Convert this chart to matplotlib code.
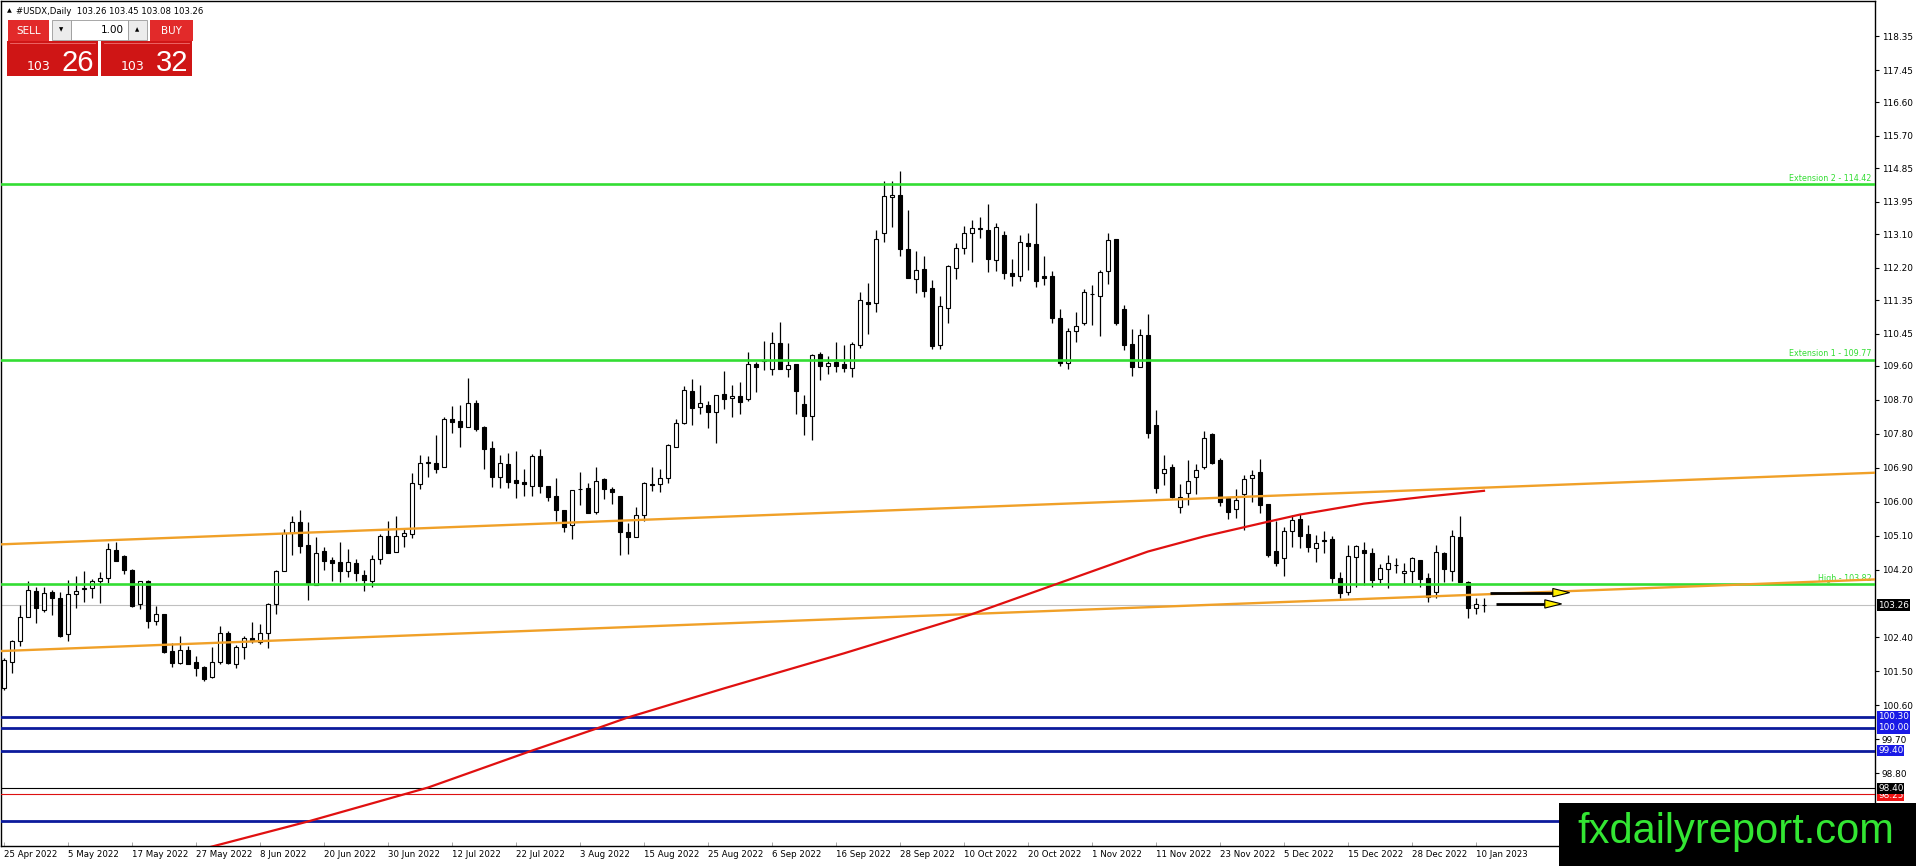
import matplotlib
matplotlib.use('Agg')
import matplotlib.pyplot as plt
from matplotlib.patches import Rectangle, Polygon

symbol = '#USDX,Daily'

# daily candles, 25 Apr 2022 .. 11 Jan 2023
opens = [101.05, 101.74, 102.30, 102.93, 103.64, 103.14, 103.60, 103.44, 102.48, 103.54,
         103.68, 103.70, 103.89, 103.97, 104.71, 104.56, 104.19, 103.28, 103.90, 102.85,
         103.02, 102.03, 101.73, 102.08, 101.74, 101.62, 101.34, 101.74, 102.51, 101.71,
         102.14, 102.38, 102.29, 102.51, 103.28, 104.17, 105.18, 105.45, 104.85, 103.79,
         104.69, 104.45, 104.39, 104.17, 104.37, 104.07, 103.91, 104.47, 105.09, 104.68,
         105.10, 105.14, 106.46, 107.03, 107.04, 106.93, 108.19, 108.14, 107.99, 108.61,
         107.98, 107.42, 106.66, 107.00, 106.58, 106.52, 106.43, 107.20, 106.42, 106.15,
         105.78, 105.37, 106.33, 106.36, 105.74, 106.60, 106.35, 106.15, 105.19, 105.07,
         105.65, 106.47, 106.46, 106.62, 107.46, 108.08, 108.94, 108.50, 108.57, 108.39,
         108.87, 108.74, 108.81, 108.72, 109.65, 109.72, 109.51, 110.20, 109.51, 109.65,
         108.58, 108.28, 109.93, 109.59, 109.70, 109.65, 109.56, 110.17, 111.31, 111.26,
         113.14, 114.07, 114.13, 112.69, 111.92, 112.17, 111.66, 110.17, 111.15, 112.21,
         112.74, 113.12, 113.24, 113.22, 112.41, 113.07, 112.06, 111.99, 112.85, 112.83,
         111.99, 111.99, 110.86, 109.67, 110.54, 110.75, 111.51, 111.46, 112.13, 112.97,
         111.11, 110.18, 109.58, 110.42, 108.03, 106.75, 106.93, 105.85, 106.24, 106.65,
         106.93, 107.80, 107.11, 106.09, 105.82, 106.20, 106.62, 106.78, 105.94, 104.69,
         104.50, 105.23, 105.53, 105.14, 104.76, 104.97, 105.00, 103.97, 103.60, 104.53,
         104.72, 104.63, 103.94, 104.21, 104.33, 104.10, 104.16, 104.45, 103.97, 103.61,
         104.63, 104.17, 105.07, 103.88, 103.17, 103.26]
highs = [101.85, 102.33, 103.26, 103.91, 103.73, 103.73, 103.66, 103.60, 103.92, 104.03,
         104.16, 103.95, 104.14, 104.91, 104.94, 104.60, 104.21, 103.91, 103.92, 103.23,
         103.03, 102.26, 102.45, 102.17, 101.91, 101.65, 102.14, 102.71, 102.58, 102.19,
         102.45, 102.80, 102.75, 103.32, 104.19, 105.27, 105.63, 105.78, 105.45, 105.06,
         104.79, 104.54, 104.92, 104.74, 104.47, 104.19, 104.59, 105.14, 105.50, 105.63,
         105.27, 106.75, 107.24, 107.21, 107.77, 108.26, 108.54, 108.57, 109.27, 108.70,
         108.00, 107.61, 107.23, 107.28, 107.34, 106.87, 107.26, 107.40, 106.43, 106.64,
         105.79, 106.32, 106.78, 106.51, 106.91, 106.62, 106.38, 106.16, 105.44, 105.85,
         106.52, 106.91, 106.86, 107.53, 108.19, 109.07, 109.25, 109.10, 108.67, 108.84,
         109.48, 109.10, 109.18, 109.98, 109.70, 110.26, 110.51, 110.76, 110.20, 109.66,
         108.83, 109.93, 109.96, 109.86, 110.23, 110.16, 110.24, 111.55, 111.79, 113.20,
         114.50, 114.50, 114.77, 113.75, 112.65, 112.51, 111.88, 111.45, 112.29, 112.85,
         113.31, 113.47, 113.56, 113.89, 113.38, 113.19, 112.43, 113.07, 113.12, 113.91,
         112.52, 112.12, 111.11, 110.60, 111.02, 111.64, 111.76, 112.14, 113.13, 112.98,
         111.23, 110.57, 110.57, 110.98, 108.43, 107.24, 107.01, 106.46, 107.12, 107.00,
         107.88, 107.81, 107.17, 106.10, 106.34, 106.71, 106.84, 107.13, 105.95, 105.50,
         105.34, 105.65, 105.67, 105.38, 105.12, 105.22, 105.09, 104.13, 104.85, 104.85,
         104.94, 104.76, 104.35, 104.59, 104.50, 104.37, 104.54, 104.46, 104.10, 104.85,
         104.68, 105.25, 105.62, 103.89, 103.46, 103.45]
lows = [101.02, 101.46, 102.17, 102.93, 102.79, 103.08, 102.99, 102.40, 102.31, 103.17,
        103.35, 103.45, 103.32, 103.85, 104.43, 104.08, 103.20, 103.16, 102.64, 102.73,
        101.99, 101.62, 101.71, 101.69, 101.38, 101.25, 101.33, 101.70, 101.70, 101.60,
        101.82, 102.26, 102.24, 102.11, 103.01, 104.16, 104.59, 104.63, 103.39, 103.78,
        104.19, 103.91, 103.86, 104.01, 103.91, 103.64, 103.73, 104.34, 104.63, 104.66,
        104.79, 105.03, 106.33, 106.66, 106.77, 106.92, 107.81, 107.44, 107.98, 107.88,
        106.86, 106.38, 106.36, 106.36, 106.09, 106.16, 106.16, 106.22, 106.03, 105.50,
        105.21, 105.01, 105.91, 105.69, 105.67, 106.06, 105.93, 104.59, 104.61, 105.06,
        105.50, 106.29, 106.27, 106.49, 107.45, 108.06, 108.03, 108.34, 107.96, 107.57,
        108.45, 108.26, 108.34, 108.68, 108.90, 109.49, 109.36, 109.51, 109.30, 108.34,
        107.77, 107.65, 109.23, 109.40, 109.45, 109.45, 109.32, 110.08, 110.44, 111.04,
        112.89, 113.29, 112.52, 111.93, 111.54, 111.44, 110.04, 110.05, 110.75, 111.90,
        112.57, 112.36, 113.00, 112.10, 112.13, 111.90, 111.73, 111.86, 112.14, 111.69,
        111.75, 110.73, 109.60, 109.51, 110.24, 110.69, 110.69, 110.40, 111.77, 110.70,
        110.02, 109.34, 109.57, 107.68, 106.24, 106.44, 106.09, 105.69, 105.91, 106.20,
        106.86, 106.99, 105.89, 105.53, 105.56, 105.25, 105.98, 105.69, 104.54, 104.30,
        104.03, 104.81, 104.78, 104.68, 104.41, 104.63, 103.82, 103.46, 103.53, 103.75,
        103.79, 103.75, 103.85, 103.72, 104.10, 103.85, 103.85, 103.75, 103.35, 103.44,
        103.88, 103.91, 103.87, 102.91, 103.02, 103.08]
closes = [101.80, 102.31, 102.93, 103.66, 103.17, 103.57, 103.46, 102.45, 103.54, 103.62,
          103.71, 103.90, 103.99, 104.74, 104.44, 104.18, 103.24, 103.89, 102.84, 103.01,
          102.02, 101.73, 102.08, 101.70, 101.60, 101.31, 101.74, 102.53, 101.73, 102.14,
          102.38, 102.31, 102.53, 103.28, 104.15, 105.18, 105.45, 104.83, 103.85, 104.63,
          104.44, 104.38, 104.17, 104.39, 104.10, 103.92, 104.47, 105.09, 104.65, 105.09,
          105.16, 106.49, 107.04, 107.05, 106.86, 108.19, 108.12, 107.99, 108.61, 107.93,
          107.41, 106.66, 107.02, 106.53, 106.50, 106.46, 107.22, 106.43, 106.13, 105.78,
          105.34, 106.31, 106.34, 105.71, 106.55, 106.35, 106.27, 105.21, 105.07, 105.65,
          106.50, 106.44, 106.62, 107.50, 108.08, 108.96, 108.49, 108.61, 108.39, 108.83,
          108.73, 108.80, 108.64, 109.65, 109.58, 109.76, 110.20, 109.52, 109.62, 108.94,
          108.27, 109.89, 109.61, 109.68, 109.61, 109.55, 110.18, 111.34, 111.25, 112.98,
          114.11, 114.14, 112.69, 111.94, 112.14, 111.60, 110.14, 111.19, 112.25, 112.72,
          113.14, 113.25, 113.25, 112.43, 113.28, 112.06, 111.99, 112.88, 112.79, 111.85,
          111.94, 110.86, 109.67, 110.54, 110.66, 111.55, 111.50, 112.09, 112.94, 110.75,
          110.17, 109.58, 110.42, 107.83, 106.37, 106.86, 106.13, 106.12, 106.55, 106.84,
          107.68, 107.03, 105.98, 105.74, 106.04, 106.59, 106.71, 105.91, 104.60, 104.38,
          105.22, 105.51, 105.10, 104.79, 104.90, 104.99, 103.97, 103.57, 104.57, 104.83,
          104.63, 103.92, 104.23, 104.37, 104.32, 104.16, 104.50, 103.94, 103.48, 104.66,
          104.22, 105.10, 103.88, 103.17, 103.29, 103.26]

date_labels = ['25 Apr 2022', '5 May 2022', '17 May 2022', '27 May 2022', '8 Jun 2022',
               '20 Jun 2022', '30 Jun 2022', '12 Jul 2022', '22 Jul 2022', '3 Aug 2022',
               '15 Aug 2022', '25 Aug 2022', '6 Sep 2022', '16 Sep 2022', '28 Sep 2022',
               '10 Oct 2022', '20 Oct 2022', '1 Nov 2022', '11 Nov 2022', '23 Nov 2022',
               '5 Dec 2022', '15 Dec 2022', '28 Dec 2022', '10 Jan 2023']
bars_per_label = 8

price_ticks = [118.35, 117.45, 116.60, 115.70, 114.85, 113.95, 113.10, 112.20, 111.35,
               110.45, 109.60, 108.70, 107.80, 106.90, 106.00, 105.10, 104.20, 102.40,
               101.50, 100.60, 99.70, 98.80]

# objects drawn on the chart
ext_levels = [114.42, 109.77, 103.82]
ext_names = ['Extension 2', 'Extension 1', 'High']
blue_levels = [100.30, 100.00, 99.40, 97.52]
black_level = 98.40
red_level = 98.25
buy_price = 103.32
lot_size = '1.00'

ma_bars = [25, 38, 53, 66, 74, 78, 90, 105, 121, 130, 139, 143, 150, 158, 162, 170, 178, 185]
ma_values = [96.80, 97.52, 98.42, 99.40, 99.98, 100.28, 101.05, 101.98, 103.02, 103.70,
             104.38, 104.68, 105.08, 105.47, 105.66, 105.95, 106.14, 106.29]

trend_bars = [-0.4, 233.9]
trend_upper = [104.87, 106.77]
trend_lower = [102.04, 103.94]

arrow_start = [185.75, 186.5]
arrow_end = [193.6, 192.6]
arrow_price = [103.59, 103.29]

W, H = 1916, 866
fig = plt.figure(figsize=(W / 100, H / 100), dpi=100)
fig.patch.set_facecolor('white')
ax = fig.add_axes([1 / W, 20 / H, 1874 / W, 845 / H])
ax.set_xlim(-0.375, 233.875)
ax.set_ylim(96.87, 119.28)

# candles
for i, (o, h, l, c) in enumerate(zip(opens, highs, lows, closes)):
    ax.vlines(i, l, h, color='black', lw=0.9, zorder=2)
    fc = 'white' if c >= o else 'black'
    ax.add_patch(Rectangle((i - 0.28, min(o, c)), 0.56, max(abs(c - o), 0.004),
                           facecolor=fc, edgecolor='black', lw=0.8, zorder=3))

# levels
ax.axhline(closes[-1], color='#c0c0c0', lw=0.8, zorder=1)
for lvl, name in zip(ext_levels, ext_names):
    ax.axhline(lvl, color='#33dd33', lw=1.9, zorder=4)
    ax.text(0.998, lvl + 0.03, f'{name} - {lvl:.2f}', transform=ax.get_yaxis_transform(),
            ha='right', va='bottom', fontsize=5.8, color='#33dd33', zorder=4)
for lvl in blue_levels:
    ax.axhline(lvl, color='#0c1a9c', lw=2.0, zorder=4)
ax.axhline(black_level, color='black', lw=0.8, zorder=4)
ax.axhline(red_level, color='#dd1111', lw=0.8, zorder=4)

ax.plot(trend_bars, trend_upper, color='#f0a028', lw=1.7, zorder=5)
ax.plot(trend_bars, trend_lower, color='#f0a028', lw=1.7, zorder=5)
ax.plot(ma_bars, ma_values, color='#e01010', lw=1.6, zorder=5)

for x0, x1, p in zip(arrow_start, arrow_end, arrow_price):
    ax.plot([x0, x1], [p, p], color='black', lw=2.0, zorder=6, solid_capstyle='butt')
    ax.add_patch(Polygon([(x1, p + 0.11), (x1, p - 0.11), (x1 + 2.1, p)], closed=True,
                         facecolor='#ffee00', edgecolor='black', lw=0.8, zorder=7))

# axes styling
for s in ax.spines.values():
    s.set_color('black')
    s.set_linewidth(1.0)
ax.yaxis.tick_right()
ax.set_yticks(price_ticks)
ax.set_yticklabels([f'{v:.2f}' for v in price_ticks])
ax.tick_params(axis='y', direction='out', length=3, width=0.8, labelsize=6.4, pad=2)
tick_bars = [i * bars_per_label for i in range(len(date_labels))]
ax.set_xticks(tick_bars)
ax.set_xticklabels(date_labels, ha='left')
ax.tick_params(axis='x', direction='in', length=3, width=0.6, color='#999999',
               labelsize=6.2, pad=3)

# price labels on the right scale
def price_tag(p, fc, dy=0):
    ax.annotate(f'{p:.2f}', xy=(1, p), xycoords=ax.get_yaxis_transform(),
                xytext=(2.2, dy), textcoords='offset points', ha='left', va='center',
                fontsize=6.4, color='white', zorder=10, annotation_clip=False,
                bbox=dict(boxstyle='square,pad=0.12', fc=fc, ec='none'))

for lvl in blue_levels:
    price_tag(lvl, '#1a1ae6')
price_tag(red_level, '#ee1111', dy=-1)
price_tag(black_level, 'black')
price_tag(closes[-1], 'black')

# overlay in pixel coordinates: title, trade panel, watermark
ov = fig.add_axes([0, 0, 1, 1])
ov.set_xlim(0, W)
ov.set_ylim(H, 0)
ov.axis('off')
ov.patch.set_alpha(0)

ov.text(7, 11, '\u25b2', fontsize=4.5, va='center', ha='left', color='black')
ov.text(16, 11, f'{symbol}  {opens[-1]:.2f} {highs[-1]:.2f} {lows[-1]:.2f} {closes[-1]:.2f}',
        fontsize=6.1, va='center', ha='left', color='black')

red_tab = '#e22a2a'
red_box = '#cf1515'
ov.add_patch(Rectangle((8, 20), 41, 21, fc=red_tab, ec='none'))
ov.text(28.5, 30.5, 'SELL', color='white', fontsize=7.5, ha='center', va='center')
ov.add_patch(Rectangle((150, 20), 43, 21, fc=red_tab, ec='none'))
ov.text(171.5, 30.5, 'BUY', color='white', fontsize=7.5, ha='center', va='center')
ov.add_patch(Rectangle((52, 20), 19, 20, fc='#ececec', ec='#999999', lw=0.6))
ov.text(61.5, 30, '\u25bc', fontsize=4, ha='center', va='center')
ov.add_patch(Rectangle((71, 20), 57, 20, fc='white', ec='#999999', lw=0.6))
ov.text(124, 30, lot_size, fontsize=7.5, ha='right', va='center')
ov.add_patch(Rectangle((128, 20), 19, 20, fc='#ececec', ec='#999999', lw=0.6))
ov.text(137.5, 30, '\u25b2', fontsize=4, ha='center', va='center')

for x0, price in [(7, closes[-1]), (101, buy_price)]:
    ov.add_patch(Rectangle((x0, 41), 91, 35, fc=red_box, ec='none'))
    ov.plot([x0 + 3, x0 + 88], [42.5, 42.5], color='#f07070', lw=0.6)
    big, small = f'{price:.2f}'.split('.')
    ov.text(x0 + 43, 70, big, color='white', fontsize=9, ha='right', va='baseline')
    ov.text(x0 + 55, 71, small, color='white', fontsize=21, ha='left', va='baseline',
            family=['Liberation Sans Narrow', 'Liberation Sans'])

ov.add_patch(Rectangle((1559, 803), W - 1559, H - 803, fc='black', ec='none', zorder=20))
ov.text(1577, 832, 'fxdailyreport.com', family='Liberation Sans', fontsize=30,
        color='#33e633', ha='left', va='center', zorder=21)

fig.savefig('out.png', dpi=100)
